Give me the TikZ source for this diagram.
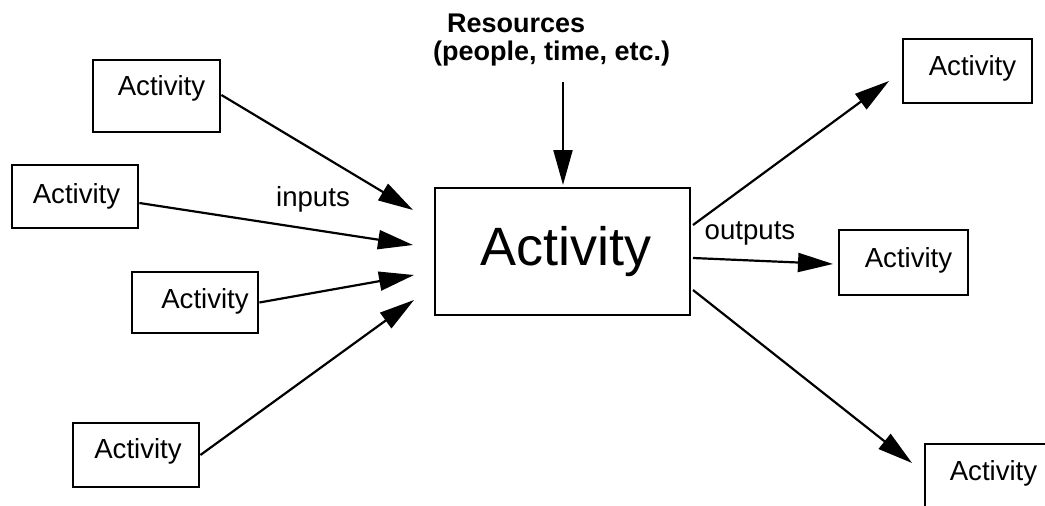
\documentclass[tikz,border=0pt]{standalone}
\usepackage{fontspec}
\setmainfont{Liberation Sans}
\usetikzlibrary{arrows.meta,calc}
\begin{document}
\begin{tikzpicture}[x=1pt,y=-1pt,
  box/.style={draw,line width=2.8pt,inner sep=0pt},
  txt/.style={anchor=base,inner sep=0pt,font=\fontsize{27.6}{30}\selectfont},
  arr/.style={line width=2.2pt,-{Triangle[length=35pt,width=19pt]}},
  lbl/.style={font=\fontsize{27.6}{30}\selectfont,inner sep=0pt}]
\clip (0,0) rectangle (1045,506);
\fill[white] (0,0) rectangle (1045,506);
% boxes
\node[box,minimum width=127pt,minimum height=72pt] (a1) at (156.5,96) {};
\node[box,minimum width=126pt,minimum height=63pt] (a2) at (75,196.5) {};
\node[box,minimum width=126pt,minimum height=61pt] (a3) at (195,302.5) {};
\node[box,minimum width=126pt,minimum height=64pt] (a4) at (136,455) {};
\node[box,minimum width=255pt,minimum height=127pt] (m) at (562.5,251.5) {};
\node[box,minimum width=129pt,minimum height=64pt] (o1) at (967.5,71) {};
\node[box,minimum width=129pt,minimum height=65pt] (o2) at (903.5,262.5) {};
\node[box,minimum width=150pt,minimum height=92pt] (o3) at (1000,490) {};
% texts
\node[txt] (a1t) at (161.5,95) {Activity};
\node[txt] (a2t) at (76.5,203) {Activity};
\node[txt] (a3t) at (205,308) {Activity};
\node[txt] (a4t) at (138,458) {Activity};
\node[txt,font=\fontsize{54}{60}\selectfont] (mt) at (566,265) {Activity};
\node[txt] (o1t) at (972.5,75) {Activity};
\node[txt] (o2t) at (908.5,267) {Activity};
\node[txt] (o3t) at (993.5,480) {Activity};
\node[anchor=base west,inner sep=0pt,font=\bfseries\fontsize{27}{30}\selectfont] (res1) at (447,32) {Resources};
\node[anchor=base west,inner sep=0pt,font=\bfseries\fontsize{27}{30}\selectfont] (res2) at (433,60) {(people, time, etc.)};
\node[lbl] (in) at (313,199) {inputs};
\node[lbl] (out) at (750,233) {outputs};
% free ends
\coordinate (t1) at (413,210);
\coordinate (t2) at (413,245);
\coordinate (t3) at (414,275);
\coordinate (t4) at (414,300);
\coordinate (rs) at (563,82);
\coordinate (rt) at (563,185);
\coordinate (s1) at (693,225);
\coordinate (s2) at (693,258);
\coordinate (s3) at (693,290);
\coordinate (u1) at (889,81);
\coordinate (u2) at (833,264);
\coordinate (u3) at (912,463);
% connectors
\draw[arr] ($(a1.east)+(0,-1)$) -- (t1);
\draw[arr] ($(a2.east)+(0,6.5)$) -- (t2);
\draw[arr] (a3.east) -- (t3);
\draw[arr] (a4.east) -- (t4);
\draw[arr] (rs) -- (rt);
\draw[arr] (s1) -- (u1);
\draw[arr] (s2) -- (u2);
\draw[arr] (s3) -- (u3);
\end{tikzpicture}
\end{document}
